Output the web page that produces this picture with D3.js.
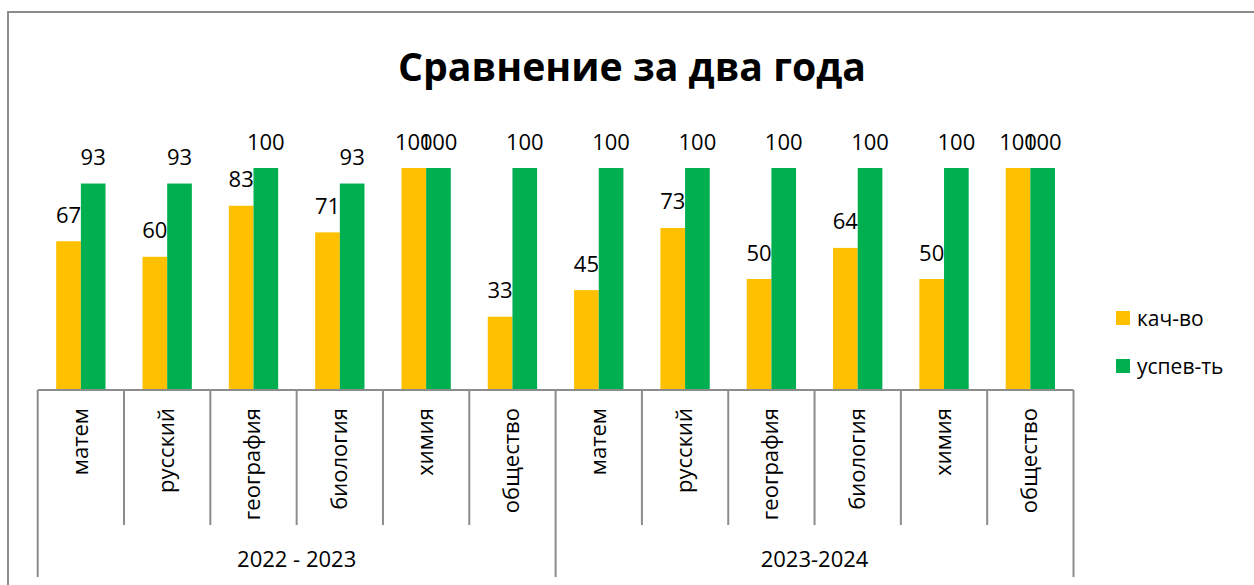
<!DOCTYPE html>
<html>
<head>
<meta charset="utf-8">
<script src="https://cdn.jsdelivr.net/npm/d3@7"></script>
<style>
  html, body { margin: 0; padding: 0; background: #fff; }
  svg { display: block; font-family: "Open Sans", "Noto Sans", sans-serif; }
</style>
</head>
<body>
<svg id="chart" width="1254" height="585"></svg>
<script>
const title = "Сравнение за два года";
const groups = ["2022 - 2023", "2023-2024"];
const subjects = ["матем", "русский", "география", "биология", "химия", "общество"];
const seriesNames = ["кач-во", "успев-ть"];
const quality = [67, 60, 83, 71, 100, 33, 45, 73, 50, 64, 50, 100];
const success = [93, 93, 100, 93, 100, 100, 100, 100, 100, 100, 100, 100];
const colors = ["#FFC000", "#00B050"];

const categories = [];
groups.forEach((g, gi) => subjects.forEach((s, si) => categories.push({ group: g, gi, subject: s, idx: gi * subjects.length + si })));
const seriesValues = [quality, success];

const svg = d3.select("#chart");
const axisColor = "#8c8c8c";

// outer chart border
svg.append("path")
  .attr("d", "M8,600 L8,12 L1260,12")
  .attr("fill", "none").attr("stroke", axisColor).attr("stroke-width", 2);

const x0 = 37.7, x1 = 1073.5, yBase = 390, yTop = 168;
const x = d3.scaleBand().domain(categories.map(c => c.idx)).range([x0, x1]).paddingInner(0).paddingOuter(0);
const step = x.bandwidth();
const inner = d3.scaleBand().domain([0, 1]).range([step * 0.75 / 3.5, step * 2.75 / 3.5]).padding(0);
const y = d3.scaleLinear().domain([0, 100]).range([yBase, yTop]);

// bars
seriesValues.forEach((vals, si) => {
  svg.append("g").selectAll("rect").data(categories).join("rect")
    .attr("x", c => x(c.idx) + inner(si))
    .attr("width", inner.bandwidth())
    .attr("y", c => y(vals[c.idx]))
    .attr("height", c => y(0) - y(vals[c.idx]))
    .attr("fill", colors[si]);
});

// data labels
seriesValues.forEach((vals, si) => {
  svg.append("g").selectAll("text").data(categories).join("text")
    .attr("x", c => x(c.idx) + inner(si) + inner.bandwidth() / 2)
    .attr("y", c => y(vals[c.idx]) - 18.5)
    .attr("text-anchor", "middle")
    .attr("font-size", 22)
    .attr("fill", "#000")
    .text(c => vals[c.idx]);
});

// axis line
svg.append("line").attr("x1", x0).attr("x2", x1).attr("y1", yBase).attr("y2", yBase)
  .attr("stroke", axisColor).attr("stroke-width", 2);

// category ticks
const bounds = d3.range(categories.length + 1);
svg.append("g").selectAll("line").data(bounds).join("line")
  .attr("x1", i => x0 + i * step).attr("x2", i => x0 + i * step)
  .attr("y1", yBase).attr("y2", i => (i % subjects.length === 0) ? 577 : 525)
  .attr("stroke", axisColor).attr("stroke-width", 2);

// category labels (rotated)
svg.append("g").selectAll("text").data(categories).join("text")
  .attr("transform", c => `translate(${x(c.idx) + step / 2 + 7},408) rotate(-90)`)
  .attr("text-anchor", "end")
  .attr("font-size", 22)
  .attr("fill", "#000")
  .text(c => c.subject);

// group labels
svg.append("g").selectAll("text").data(groups).join("text")
  .attr("x", (g, gi) => x0 + (gi * subjects.length + subjects.length / 2) * step)
  .attr("y", 567)
  .attr("text-anchor", "middle")
  .attr("font-size", 22)
  .attr("fill", "#000")
  .text(g => g);

// title
const t = svg.append("text")
  .attr("x", 632).attr("y", 81)
  .attr("text-anchor", "middle")
  .attr("font-weight", "bold")
  .attr("font-size", 40)
  .attr("fill", "#000")
  .text(title);
const tw = t.node().getComputedTextLength();
t.attr("font-size", 40 * 468 / tw);

// legend
const leg = svg.append("g").selectAll("g").data(seriesNames).join("g")
  .attr("transform", (d, i) => `translate(1116,${311 + i * 48})`);
leg.append("rect").attr("width", 14).attr("height", 14).attr("fill", (d, i) => colors[i]);
leg.append("text").attr("x", 21).attr("y", 15).attr("font-size", 21).attr("fill", "#000").text(d => d);
</script>
</body>
</html>
